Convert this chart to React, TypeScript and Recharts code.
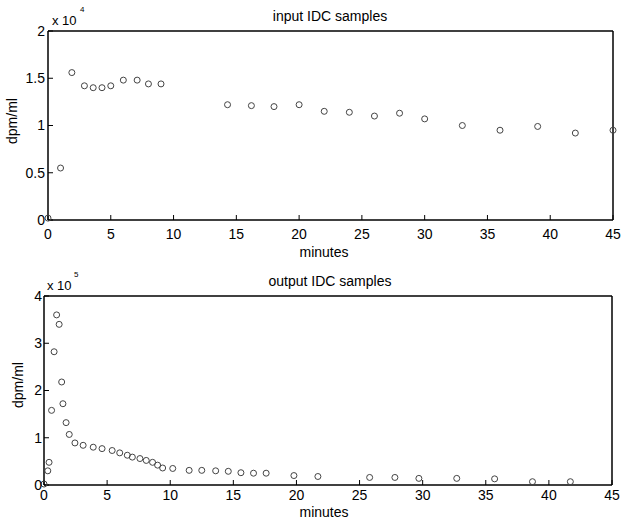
import React from "react";
import { ScatterChart, Scatter, XAxis, YAxis } from "recharts";

// input IDC samples (minutes, dpm/ml)
const inputMinutes = [0, 1, 1.9, 2.9, 3.6, 4.3, 5, 6, 7.1, 8, 9, 14.3, 16.2, 18, 20, 22, 24, 26, 28, 30, 33, 36, 39, 42, 45];
const inputDpm = [200, 5500, 15600, 14200, 14000, 14000, 14200, 14800, 14800, 14400, 14400, 12200, 12100, 12000, 12200, 11500, 11400, 11000, 11300, 10700, 10000, 9500, 9900, 9200, 9500];

// output IDC samples (minutes, dpm/ml)
const outputMinutes = [0, 0.3, 0.4, 0.6, 0.8, 1.0, 1.2, 1.4, 1.5, 1.75, 2.0, 2.45, 3.1, 3.9, 4.6, 5.4, 6.0, 6.6, 7.0, 7.6, 8.1, 8.6, 9.0, 9.4, 10.2, 11.5, 12.5, 13.6, 14.6, 15.6, 16.6, 17.6, 19.8, 21.7, 25.8, 27.8, 29.7, 32.7, 35.7, 38.7, 41.7];
const outputDpm = [2000, 30000, 48000, 158000, 282000, 360000, 340000, 218000, 172000, 132000, 107000, 89000, 84000, 80000, 77000, 73000, 68000, 63000, 59000, 56000, 52000, 48000, 42000, 36000, 35000, 31000, 31000, 30000, 29000, 26000, 25000, 25000, 20000, 18000, 16000, 16000, 14000, 14000, 13000, 7000, 7000];

const minuteTicks = [0, 5, 10, 15, 20, 25, 30, 35, 40, 45];
const inputTicks = [0, 5000, 10000, 15000, 20000];
const outputTicks = [0, 100000, 200000, 300000, 400000];

const inputData = inputMinutes.map((t, i) => ({ t, v: inputDpm[i] }));
const outputData = outputMinutes.map((t, i) => ({ t, v: outputDpm[i] }));

const font = "'Liberation Sans', Arial, sans-serif";
const tickStyle = { fill: "#000", fontSize: 14, fontFamily: font };
const lineStyle = { stroke: "#000", strokeWidth: 1.5 };
const tickLineStyle = { stroke: "#000", strokeWidth: 1 };

const Ring = (p: any) => (
  <circle cx={p.cx} cy={p.cy} r={3} fill="none" stroke="#444" strokeWidth={1} />
);

function Panel({
  data,
  yTicks,
  scale,
  margin,
  xMargin,
  yMargin,
}: {
  data: { t: number; v: number }[];
  yTicks: number[];
  scale: number;
  margin: { top: number; right: number; bottom: number; left: number };
  xMargin: number;
  yMargin: number;
}) {
  const yMax = yTicks[yTicks.length - 1];
  return (
    <ScatterChart width={622} height={264} margin={margin}>
      <XAxis
        dataKey="t"
        type="number"
        domain={[0, 45]}
        ticks={minuteTicks}
        height={1}
        tickSize={-5}
        tickMargin={xMargin}
        tick={tickStyle}
        axisLine={lineStyle}
        tickLine={tickLineStyle}
        interval={0}
      />
      <XAxis
        xAxisId="top"
        orientation="top"
        type="number"
        domain={[0, 45]}
        ticks={minuteTicks}
        height={1}
        tickSize={-5}
        tickFormatter={() => ""}
        axisLine={lineStyle}
        tickLine={tickLineStyle}
        interval={0}
      />
      <YAxis
        dataKey="v"
        type="number"
        domain={[0, yMax]}
        ticks={yTicks}
        width={1}
        tickSize={-5}
        tickMargin={yMargin}
        tick={tickStyle}
        tickFormatter={(v: number) => String(v / scale)}
        axisLine={lineStyle}
        tickLine={tickLineStyle}
        interval={0}
      />
      <YAxis
        yAxisId="right"
        orientation="right"
        type="number"
        domain={[0, yMax]}
        ticks={yTicks}
        width={1}
        tickSize={-5}
        tickFormatter={() => ""}
        axisLine={lineStyle}
        tickLine={tickLineStyle}
        interval={0}
      />
      <Scatter data={data} shape={Ring} isAnimationActive={false} />
    </ScatterChart>
  );
}

export default function App() {
  return (
    <div style={{ position: "absolute", left: 0, top: 0, width: 622, height: 528, background: "#fff" }}>
      <div style={{ position: "absolute", left: 0, top: 0 }}>
        <Panel
          data={inputData}
          yTicks={inputTicks}
          scale={10000}
          margin={{ top: 30, right: 8, bottom: 43, left: 47 }}
          xMargin={14}
          yMargin={8}
        />
      </div>
      <div style={{ position: "absolute", left: 0, top: 264 }}>
        <Panel
          data={outputData}
          yTicks={outputTicks}
          scale={100000}
          margin={{ top: 31, right: 9, bottom: 42, left: 43 }}
          xMargin={10}
          yMargin={7}
        />
      </div>
      <svg
        width={622}
        height={528}
        style={{ position: "absolute", left: 0, top: 0, pointerEvents: "none" }}
        fontFamily={font}
        fill="#000"
      >
        <text x={330} y={21} fontSize={14} textAnchor="middle">input IDC samples</text>
        <text x={52} y={25} fontSize={13}>x 10</text>
        <text x={80} y={12} fontSize={8}>4</text>
        <text x={0} y={0} fontSize={14} textAnchor="middle" transform="translate(17,121) rotate(-90)">dpm/ml</text>
        <text x={324} y={257} fontSize={14} textAnchor="middle">minutes</text>

        <text x={330} y={286} fontSize={14} textAnchor="middle">output IDC samples</text>
        <text x={47} y={290} fontSize={13}>x 10</text>
        <text x={74} y={277} fontSize={8}>5</text>
        <text x={0} y={0} fontSize={14} textAnchor="middle" transform="translate(23,385) rotate(-90)">dpm/ml</text>
        <text x={324} y={517} fontSize={14} textAnchor="middle">minutes</text>
      </svg>
    </div>
  );
}
